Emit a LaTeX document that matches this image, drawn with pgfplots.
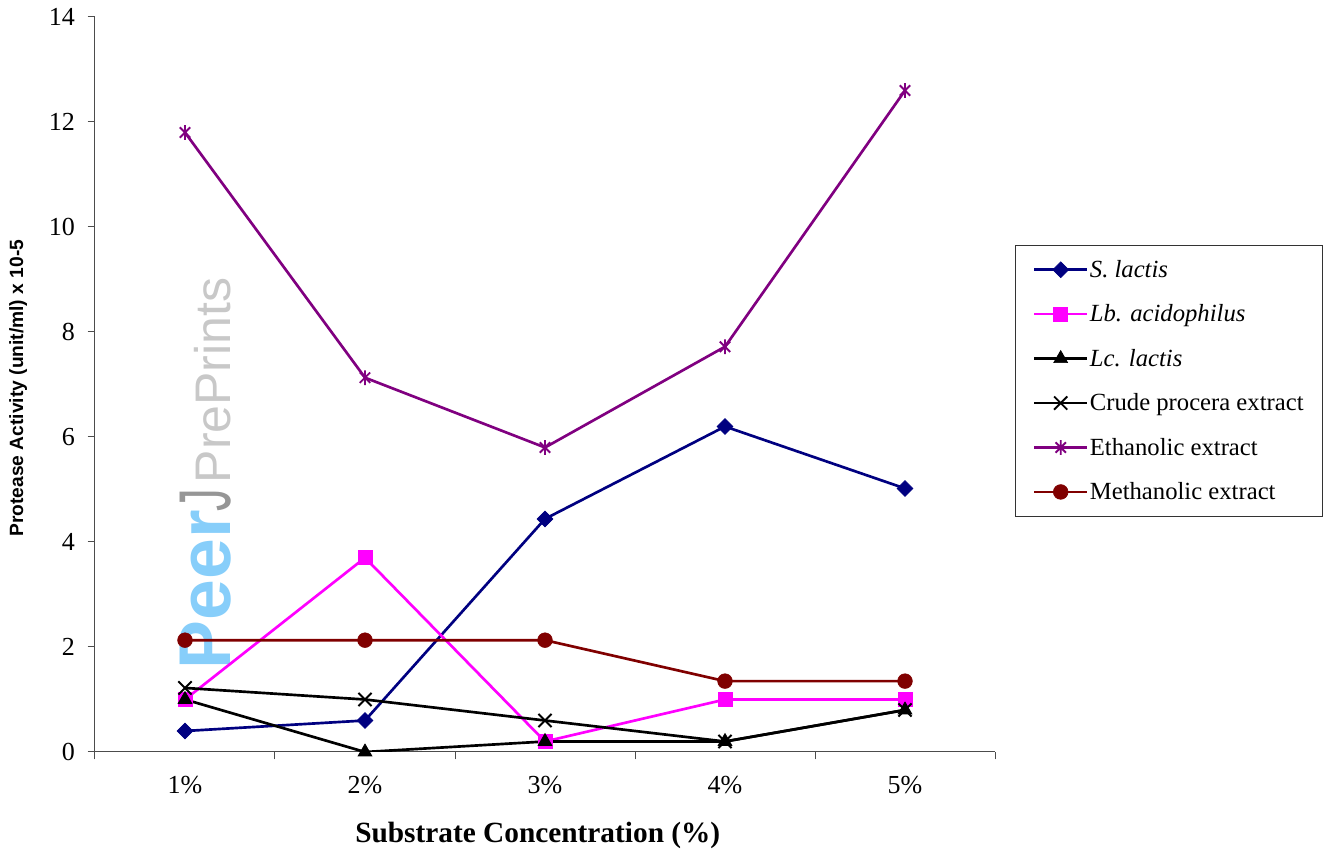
\documentclass[border=0pt]{standalone}
\usepackage{pgfplots}
\pgfplotsset{compat=1.18}
\usepackage{fontspec}
\setmainfont{Liberation Serif}
\newfontfamily\arialfont{Liberation Sans}

\definecolor{navyline}{RGB}{0,0,128}
\definecolor{magline}{RGB}{255,0,255}
\definecolor{purpline}{RGB}{128,0,128}
\definecolor{redline}{RGB}{128,0,0}
\definecolor{wmblue}{RGB}{135,206,250}
\definecolor{wmgray}{RGB}{150,150,150}
\definecolor{wmlight}{RGB}{200,200,200}

% star marker: a cross with a vertical bar through it
\pgfdeclareplotmark{xstar}{%
  \pgfpathmoveto{\pgfqpoint{-.7071\pgfplotmarksize}{-.7071\pgfplotmarksize}}%
  \pgfpathlineto{\pgfqpoint{.7071\pgfplotmarksize}{.7071\pgfplotmarksize}}%
  \pgfpathmoveto{\pgfqpoint{-.7071\pgfplotmarksize}{.7071\pgfplotmarksize}}%
  \pgfpathlineto{\pgfqpoint{.7071\pgfplotmarksize}{-.7071\pgfplotmarksize}}%
  \pgfpathmoveto{\pgfqpoint{0pt}{-\pgfplotmarksize}}%
  \pgfpathlineto{\pgfqpoint{0pt}{\pgfplotmarksize}}%
  \pgfusepathqstroke}

\begin{document}
\begin{tikzpicture}
% watermark
\node[rotate=90, anchor=base west, inner sep=0pt] at (101.25pt,62pt)
  {\arialfont\fontsize{55}{60}\selectfont\textcolor{wmblue}{\bfseries Peer}\kern-1pt\textcolor{wmgray}{\scalebox{0.62}[1]{J}}\kern4pt\textcolor{wmlight}{\fontsize{37.5}{45}\selectfont PrePrints}};

\begin{axis}[
  at={(0,0)}, anchor=south west,
  scale only axis,
  width=675pt, height=551.25pt,
  xmin=0.5, xmax=5.5, ymin=0, ymax=14,
  axis x line*=bottom, axis y line*=left,
  axis line style={line width=0.75pt, black!70},
  xtick={1,2,3,4,5},
  xticklabels={1\%,2\%,3\%,4\%,5\%},
  major x tick style={draw=none},
  minor xtick={0.5,1.5,2.5,3.5,4.5,5.5},
  minor x tick style={line width=0.75pt, black!70},
  minor tick length=5.5pt,
  ytick={0,2,...,14},
  major y tick style={line width=0.75pt, black!70},
  major tick length=5.5pt,
  tick align=outside,
  /pgf/number format/assume math mode=true,
  tick label style={font=\fontsize{19.5}{23}\selectfont},
  xticklabel style={yshift=-9pt},
  yticklabel style={xshift=-6pt},
  xlabel={\textbf{Substrate Concentration (\%)}},
  xlabel style={font=\fontsize{22}{26}\selectfont, at={(axis description cs:0.492,-0.1135)}, anchor=center},
  ylabel={\arialfont\bfseries Protease Activity (unit/ml) x 10-5},
  ylabel style={font=\fontsize{14.4}{17}\selectfont, at={(axis description cs:-0.0855,0.495)}, anchor=center},
  every axis plot/.append style={line width=2pt},
  legend style={at={(1.0222,0.6898)}, anchor=north west, draw=black!80, line width=0.75pt,
    font=\fontsize{18.5}{22}\selectfont, row sep=17pt, inner xsep=13pt, inner ysep=10pt,
    nodes={inner sep=1pt}},
  legend cell align=left,
  legend image code/.code={\draw[mark repeat=2,mark phase=2] plot coordinates {(0cm,0cm)(0.7cm,0cm)(1.4cm,0cm)};},
]
\addplot[color=navyline, mark=square*, mark size=4.2pt, mark options={solid, rotate=45, fill=navyline, line width=0.5pt}]
  coordinates {(1,0.4) (2,0.6) (3,4.44) (4,6.2) (5,5.02)};
\addlegendentry{\textit{S. lactis}}
\addplot[color=magline, mark=square*, mark size=5.2pt, mark options={solid, fill=magline, line width=0.5pt}]
  coordinates {(1,1.0) (2,3.7) (3,0.2) (4,1.0) (5,1.0)};
\addlegendentry{\textit{Lb. acidophilus}}
\addplot[color=black, mark=triangle*, mark size=6pt, mark options={solid, fill=black, line width=0.5pt}]
  coordinates {(1,1.0) (2,0.0) (3,0.2) (4,0.2) (5,0.8)};
\addlegendentry{\textit{Lc. lactis}}
\addplot[color=black, mark=x, mark size=7pt, mark options={solid, line width=1.4pt}]
  coordinates {(1,1.22) (2,1.0) (3,0.6) (4,0.2) (5,0.8)};
\addlegendentry{Crude procera extract}
\addplot[color=purpline, mark=xstar, mark size=5.5pt, mark options={solid, line width=1.4pt}]
  coordinates {(1,11.8) (2,7.13) (3,5.8) (4,7.72) (5,12.6)};
\addlegendentry{Ethanolic extract}
\addplot[color=redline, mark=*, mark size=5.5pt, mark options={solid, fill=redline, line width=0.5pt}]
  coordinates {(1,2.13) (2,2.13) (3,2.13) (4,1.35) (5,1.35)};
\addlegendentry{Methanolic extract}
\end{axis}
\path[use as bounding box] (-71.25pt,-78pt) rectangle (927.75pt,564pt);
\end{tikzpicture}
\end{document}
